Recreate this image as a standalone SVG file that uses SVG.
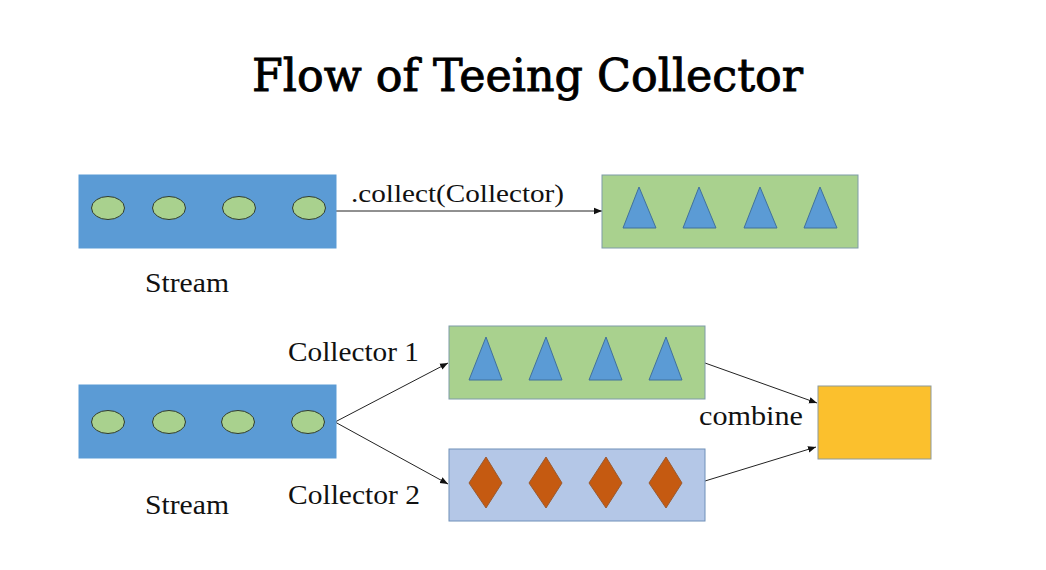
<svg xmlns="http://www.w3.org/2000/svg" width="1046" height="570" viewBox="0 0 1046 570">
<style>
.t{font-family:"Liberation Serif","DejaVu Serif",serif;fill:#111;}
.title{font-family:"DejaVu Serif","Liberation Serif",serif;fill:#000;stroke:#000;stroke-width:0.9;font-size:45px;}
.stream{fill:#5B9BD5;stroke:#5B9BD5;stroke-width:1;}
.green{fill:#A9D18E;stroke:#7E9BA8;stroke-width:1;}
.lblue{fill:#B4C7E7;stroke:#6F8FB8;stroke-width:1;}
.yellow{fill:#FBC02D;stroke:#8E9A9A;stroke-width:1;}
.ell{fill:#A9D18E;stroke:#2F3A2F;stroke-width:1;}
.tri{fill:#5B9BD5;stroke:#41719C;stroke-width:1;}
.dia{fill:#C55A11;stroke:#9A5A30;stroke-width:1;}
.conn{stroke:#222;stroke-width:1;fill:none;marker-end:url(#ah);}
</style>
<defs>
<marker id="ah" viewBox="0 0 10 10" refX="10" refY="5" markerWidth="8" markerHeight="8" markerUnits="userSpaceOnUse" orient="auto">
<path d="M0,1 L10,5 L0,9 z" fill="#111"/>
</marker>
</defs>
<rect width="1046" height="570" fill="#fff"/>
<text class="title" x="252" y="91" textLength="551" lengthAdjust="spacingAndGlyphs">Flow of Teeing Collector</text>

<g id="connectors">
<line class="conn" x1="336" y1="211" x2="602" y2="211"/>
<line class="conn" x1="335" y1="422" x2="448" y2="363"/>
<line class="conn" x1="335" y1="422" x2="448" y2="484"/>
<line class="conn" x1="705" y1="363" x2="817" y2="403"/>
<line class="conn" x1="705" y1="481" x2="816" y2="447"/>
</g>

<g id="stream1">
<rect class="stream" x="79" y="175" width="257" height="73"/>
<ellipse class="ell" cx="108" cy="208" rx="16.5" ry="11.5"/>
<ellipse class="ell" cx="169" cy="208" rx="16.5" ry="11.5"/>
<ellipse class="ell" cx="239" cy="208" rx="16.5" ry="11.5"/>
<ellipse class="ell" cx="309" cy="208" rx="16.5" ry="11.5"/>
<text class="t" x="145" y="292" font-size="28" textLength="84" lengthAdjust="spacingAndGlyphs">Stream</text>
</g>

<g id="collect-label">
<text class="t" x="351" y="202" font-size="25" textLength="213" lengthAdjust="spacingAndGlyphs">.collect(Collector)</text>
</g>

<g id="result1">
<rect class="green" x="602" y="175" width="256" height="73"/>
<polygon class="tri" points="639,187 623,228 656,228"/>
<polygon class="tri" points="699,187 683,228 716,228"/>
<polygon class="tri" points="760,187 744,228 777,228"/>
<polygon class="tri" points="820,187 804,228 837,228"/>
</g>

<g id="stream2">
<rect class="stream" x="79" y="385" width="257" height="73"/>
<ellipse class="ell" cx="108" cy="422" rx="16.5" ry="11.5"/>
<ellipse class="ell" cx="169" cy="422" rx="16.5" ry="11.5"/>
<ellipse class="ell" cx="238" cy="422" rx="16.5" ry="11.5"/>
<ellipse class="ell" cx="308" cy="422" rx="16.5" ry="11.5"/>
<text class="t" x="145" y="514" font-size="28" textLength="84" lengthAdjust="spacingAndGlyphs">Stream</text>
</g>

<g id="collector1">
<text class="t" x="288" y="361" font-size="28" textLength="131" lengthAdjust="spacingAndGlyphs">Collector 1</text>
<rect class="green" x="449" y="326" width="256" height="73"/>
<polygon class="tri" points="486,337 469,380 502,380"/>
<polygon class="tri" points="546,337 529,380 562,380"/>
<polygon class="tri" points="606,337 589,380 622,380"/>
<polygon class="tri" points="666,337 649,380 682,380"/>
</g>

<g id="collector2">
<text class="t" x="288" y="504" font-size="28" textLength="132" lengthAdjust="spacingAndGlyphs">Collector 2</text>
<rect class="lblue" x="449" y="449" width="256" height="72"/>
<polygon class="dia" points="486,457 502,483 486,508 469,483"/>
<polygon class="dia" points="546,457 562,483 546,508 529,483"/>
<polygon class="dia" points="606,457 622,483 606,508 589,483"/>
<polygon class="dia" points="666,457 682,483 666,508 649,483"/>
</g>

<g id="combine">
<text class="t" x="699" y="425" font-size="28" textLength="104" lengthAdjust="spacingAndGlyphs">combine</text>
<rect class="yellow" x="818" y="386" width="113" height="73"/>
</g>
</svg>
